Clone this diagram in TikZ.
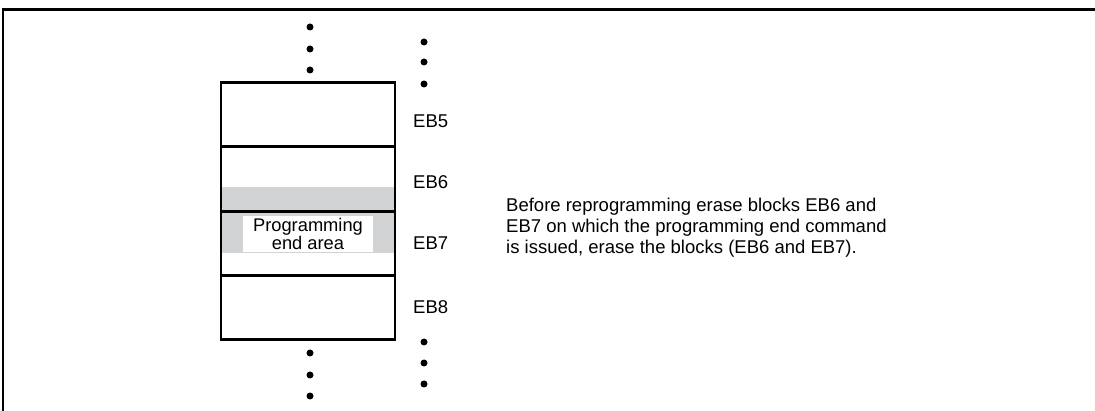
\documentclass[tikz,border=0pt]{standalone}
\usepackage{fontspec}
\setmainfont{Liberation Sans}
\usetikzlibrary{positioning}
\definecolor{bandgray}{RGB}{209,211,212}

\begin{document}
\begin{tikzpicture}[
    x=1pt, y=-1pt,
    font=\fontsize{18.5}{20.7}\selectfont,
    block/.style={draw, line width=2.8pt, minimum width=174pt, minimum height=64.5pt, inner sep=0pt},
    eblabel/.style={anchor=west, inner sep=0pt},
    dot/.style={circle, fill=black, inner sep=0pt, minimum size=7pt},
    frameline/.style={line width=2.8pt},
    note/.style={align=left, anchor=north west, inner sep=0pt},
    endbox/.style={fill=white, minimum width=130pt, minimum height=36pt, inner sep=0pt, align=center, font=\fontsize{18.3}{13.5}\selectfont}
]
\useasboundingbox (0,0) rectangle (1095,411);

% Frame
\draw[frameline] (3,411) -- (3,9.5) -- (1095,9.5);

% Programming end area band
\fill[bandgray] (221,187) rectangle (395,253);

% Erase blocks
\node[block] (eb5) at (308,114.5) {};
\node[block] (eb6) at (308,179) {};
\node[block] (eb7) at (308,243.5) {};
\node[block] (eb8) at (308,307.5) {};
\node[endbox] (endarea) at (308,234) {Programming\\end area};

% Block labels
\node[eblabel] (lab5) at (413,121) {EB5};
\node[eblabel] (lab6) at (413,182) {EB6};
\node[eblabel] (lab7) at (413,243) {EB7};
\node[eblabel] (lab8) at (413,307) {EB8};

% Continuation dots
\foreach \y [count=\i] in {27,49,70} \node[dot] (topdot\i) at (310,\y) {};
\foreach \y [count=\i] in {353,375,396} \node[dot] (botdot\i) at (310,\y) {};
\foreach \y [count=\i] in {42,62,84} \node[dot] (toplab\i) at (424,\y) {};
\foreach \y [count=\i] in {342,363,384} \node[dot] (botlab\i) at (424,\y) {};

% Note
\node[note] (note) at (506,198) {Before reprogramming erase blocks EB6 and\\EB7 on which the programming end command\\is issued, erase the blocks (EB6 and EB7).};

\end{tikzpicture}
\end{document}
